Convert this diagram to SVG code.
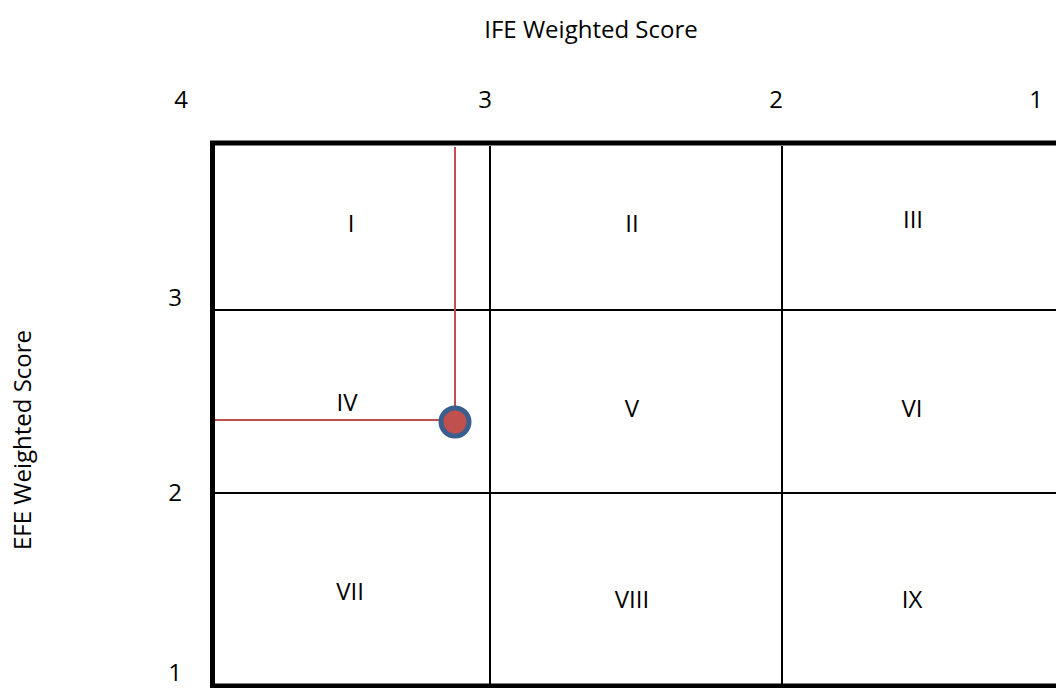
<svg xmlns="http://www.w3.org/2000/svg" width="1056" height="688" viewBox="0 0 1056 688">
<style>
text{font-family:"Open Sans","Liberation Sans",sans-serif;font-size:24px;fill:#000}
.c{text-anchor:middle}
.grid{stroke:#000;stroke-width:2;fill:none}
.frame{stroke:#000;stroke-width:5;fill:none}
.red{stroke:#c0504d;stroke-width:2;fill:none}
</style>
<rect width="1056" height="688" fill="#fff"/>
<g id="titles">
<text class="c" x="591" y="38">IFE Weighted Score</text>
<text class="c" transform="translate(31,440) rotate(-90)">EFE Weighted Score</text>
</g>
<g id="axis-labels">
<text class="c" x="181" y="108">4</text>
<text class="c" x="485" y="108">3</text>
<text class="c" x="776" y="108">2</text>
<text class="c" x="1036" y="108">1</text>
<text class="c" x="175" y="306">3</text>
<text class="c" x="175" y="501">2</text>
<text class="c" x="175" y="681">1</text>
</g>
<g id="connectors">
<path class="frame" d="M1060,143 H212.5 V686 H1060"/>
<line class="grid" x1="490" y1="146" x2="490" y2="684"/>
<line class="grid" x1="782" y1="146" x2="782" y2="684"/>
<line class="grid" x1="215" y1="310" x2="1056" y2="310"/>
<line class="grid" x1="215" y1="493" x2="1056" y2="493"/>
<line class="red" x1="455" y1="147" x2="455" y2="420"/>
<line class="red" x1="215" y1="420" x2="455" y2="420"/>
</g>
<g id="cells">
<text class="c" x="351" y="232">I</text>
<text class="c" x="632" y="232">II</text>
<text class="c" x="913" y="228">III</text>
<text class="c" x="347" y="411">IV</text>
<text class="c" x="632" y="417">V</text>
<text class="c" x="912" y="417">VI</text>
<text class="c" x="350" y="600">VII</text>
<text class="c" x="632" y="608">VIII</text>
<text class="c" x="912" y="608">IX</text>
</g>
<g id="point">
<circle cx="455" cy="422" r="14" fill="#c0504d" stroke="#3a5f8f" stroke-width="5"/>
</g>
</svg>
